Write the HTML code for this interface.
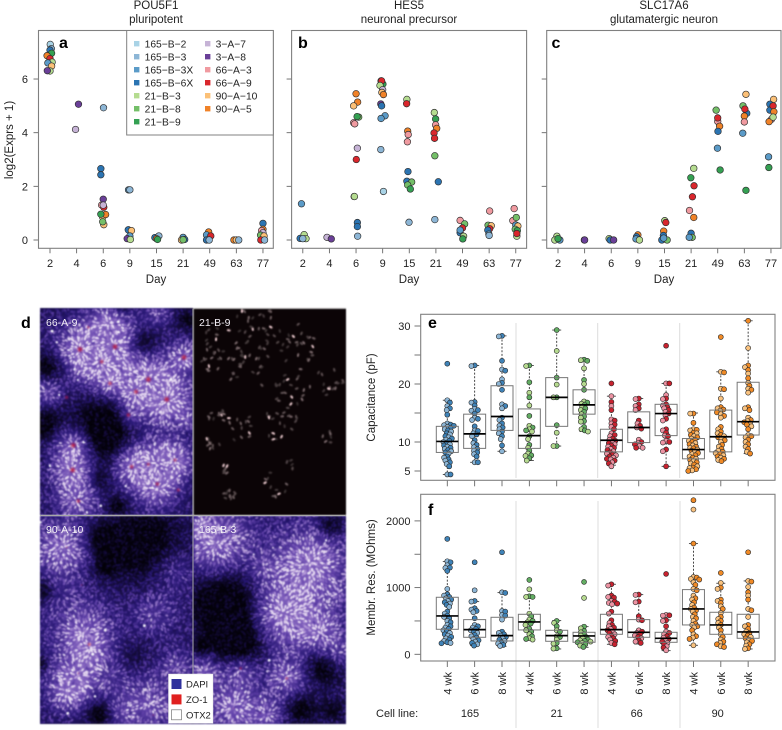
<!DOCTYPE html>
<html lang="en">
<head>
<meta charset="utf-8">
<title>Cell line expression and electrophysiology</title>
<style>
html,body{margin:0;padding:0;background:#fff;}
#page{position:relative;width:782px;height:730px;overflow:hidden;background:#fff;font-family:"Liberation Sans",sans-serif;}
#micro{position:absolute;left:0;top:0;filter:blur(0.4px);}
#chart{position:absolute;left:0;top:0;}
text{font-family:"Liberation Sans",sans-serif;fill:#222;}
</style>
</head>
<body>
<div id="page">
<canvas id="micro" width="782" height="730"></canvas>
<svg id="chart" width="782" height="730" viewBox="0 0 782 730" xmlns="http://www.w3.org/2000/svg"></svg>
</div>
<script>
/* ---------- Chart data: panels a-c ---------- */
const dayLabels = ['2','4','6','9','15','21','49','63','77'];
const exprTicks = [0,2,4,6];
const lineNames = ['165\u2212B\u22122','165\u2212B\u22123','165\u2212B\u22123X','165\u2212B\u22126X','21\u2212B\u22123','21\u2212B\u22128','21\u2212B\u22129','3\u2212A\u22127','3\u2212A\u22128','66\u2212A\u22123','66\u2212A\u22129','90\u2212A\u221210','90\u2212A\u22125'];
const lineColors = ['#a9d3e6','#8db6d6','#5b9bc8','#2b74b2','#b5dc90','#74bf68','#34a052','#c6b3d6','#6a3f98','#f09aa0','#d9262c','#fbc077','#f08228'];
/* each point: day index, horizontal jitter (category units), log2 expression, cell line index */
const pointsA = [
[0,.01,7.29,0],[0,.05,7.13,1],[0,0,7.08,3],[0,.06,6.96,6],[0,-.11,6.87,12],[0,0,6.76,10],[0,.08,6.63,4],[0,-.08,6.6,2],[0,.06,6.48,11],[0,0,6.3,4],[0,-.1,6.31,8],
[1,.07,5.06,8],[1,-.04,4.12,7],
[2,.01,4.93,1],[2,-.09,2.66,3],[2,-.09,2.43,3],[2,0,1.52,8],[2,-.06,1.3,9],[2,.02,1.22,10],[2,0,1.3,7],[2,.02,.57,11],[2,-.02,.85,11],[2,.09,.95,12],[2,-.02,.68,5],[2,-.09,.96,6],
[3,-.05,1.87,2],[3,0,1.87,1],[3,-.06,.38,3],[3,.06,.35,11],[3,0,.15,2],[3,-.1,.05,8],[3,.02,.02,4],
[4,-.06,.09,3],[4,.09,.15,1],[4,0,.05,12],[4,.04,.02,6],
[5,0,.1,2],[5,-.06,0,11],[5,.06,.02,3],[5,0,.01,5],
[6,-.04,.3,12],[6,-.12,.19,2],[6,.04,.15,10],[6,-.12,0,3],[6,-.02,0,1],
[7,-.09,0,12],[7,0,0,11],[7,.09,0,1],
[8,0,.62,3],[8,0,.4,12],[8,-.05,.35,9],[8,0,.27,7],[8,-.09,.18,5],[8,.04,.15,11],[8,-.08,0,10],[8,.06,0,1]
];
const pointsB = [
[0,-.05,1.35,2],[0,-.1,.06,3],[0,.02,.06,8],[0,.05,.2,4],[0,.12,.05,4],[0,0,.05,1],
[1,-.09,.1,7],[1,.07,.04,8],
[2,0,5.45,12],[2,.06,5.14,12],[2,-.09,5,11],[2,.1,4.58,5],[2,.04,4.6,6],[2,-.09,4.37,9],[2,-.05,4.33,9],[2,.05,3.42,7],[2,.01,3,10],[2,-.07,1.62,6],[2,-.06,1.62,4],[2,.05,.65,3],[2,.05,.5,3],[2,.06,.14,1],
[3,-.06,5.93,6],[3,.01,5.81,6],[3,-.04,5.93,10],[3,-.1,5.76,4],[3,0,5.6,7],[3,-.03,5.5,11],[3,.03,5.42,12],[3,-.07,5.07,8],[3,-.04,5,3],[3,.09,4.63,2],[3,-.06,4.53,2],[3,-.07,3.37,1],[3,.03,1.81,0],
[4,-.09,5.24,4],[4,-.1,5.08,10],[4,-.06,4.06,12],[4,-.04,3.93,9],[4,-.07,3.66,9],[4,-.05,2.55,3],[4,-.09,2.19,3],[4,.09,2.16,5],[4,-.06,2.05,5],[4,.04,1.9,6],[4,-.01,.66,1],
[5,-.06,4.75,4],[5,-.01,4.51,6],[5,-.01,4.29,9],[5,.03,4.16,12],[5,-.07,3.99,10],[5,-.05,3.79,10],[5,-.04,3.14,5],[5,.09,2.17,3],[5,-.04,.76,1],
[6,-.09,.73,9],[6,.08,.6,5],[6,0,.45,10],[6,-.09,.27,3],[6,-.09,.37,2],[6,.04,.14,4],[6,.01,.04,6],
[7,.02,1.08,9],[7,-.04,.55,5],[7,.08,.53,11],[7,.02,.42,10],[7,-.05,.37,3],[7,-.01,.22,2],[7,0,.17,1],
[8,-.06,1.17,9],[8,-.11,.72,9],[8,.02,.84,5],[8,0,.56,2],[8,.08,.52,11],[8,-.02,.4,5],[8,.06,.35,6],[8,.04,.14,4],[8,.04,.24,10]
];
const pointsC = [
[0,-.04,.14,4],[0,-.12,0,4],[0,.07,0,2],[0,0,.05,6],
[1,-.01,0,7],[1,0,0,8],
[2,-.08,.05,4],[2,-.04,0,3],[2,.09,0,8],
[3,0,.19,12],[3,-.05,.12,3],[3,-.07,.04,2],[3,.06,0,4],
[4,.01,.72,4],[4,.05,.65,10],[4,-.03,.33,12],[4,-.04,.17,3],[4,-.1,0,3],[4,.1,0,5],[4,-.03,.07,2],
[5,.1,2.67,4],[5,-.01,2.32,6],[5,.11,2.02,10],[5,.05,1.61,10],[5,-.06,1.1,9],[5,.1,.84,12],[5,0,.25,3],[5,.04,.1,5],[5,-.07,.1,2],
[6,-.06,4.84,5],[6,0,4.42,9],[6,0,4.55,10],[6,.07,4.24,12],[6,.01,4.05,3],[6,-.01,3.42,2],[6,.09,2.61,6],
[7,.06,5.43,11],[7,-.05,5,5],[7,.09,4.72,3],[7,.02,4.88,10],[7,0,4.62,12],[7,0,4.4,9],[7,-.06,3.98,2],[7,.06,1.85,6],
[8,.1,5.24,11],[8,-.04,5.06,3],[8,-.04,4.84,3],[8,.02,4.5,9],[8,-.07,4.41,12],[8,.08,5,10],[8,.11,4.78,12],[8,.08,4.58,4],[8,-.09,3.1,2],[8,-.08,2.7,6]
];

/* ---------- Chart data: panels e-f ---------- */
const weekLabels = ['4 wk','6 wk','8 wk'];
const cellLines = ['165','21','66','90'];
const capTicks = [5,10,15,20,25,30];
const capTickLabels = ['5','10','','20','','30'];
const resTicks = [0,500,1000,1500,2000];
const resTickLabels = ['0','','1000','','2000'];
const groupColors = [['#3f83b8','#8db6d6'],['#62ad62','#b5d98f'],['#c8222f','#ec93a3'],['#f08a26','#f9c27f']];
/* box statistics: lower whisker, q1, median, q3, upper whisker */
const capBoxes = [
[4.4,8.2,10.1,12.7,17.2],[6.5,8.9,11.4,14.8,23.2],[8.4,12,14.4,19.7,28.3],
[6.8,8.9,11.1,15.7,23.2],[9.3,12.7,17.7,21.1,29.3],[11.8,14.8,16.4,19,24.2],
[6,8.3,10.3,12.2,17.9],[9,9.9,12.5,15.2,17.5],[5.8,11.1,14.9,16.5,20.1],
[5.1,7.1,8.7,10.6,15],[6.8,8.3,10.9,15.5,22.1],[8,11.2,13.5,20.3,30.9]
];
const resBoxes = [
[165,375,575,855,1390],[130,255,370,520,790],[120,200,280,555,925],
[215,365,485,600,865],[80,195,280,360,505],[105,180,275,330,415],
[150,300,370,600,1050],[155,255,330,520,895],[55,180,240,330,515],
[135,440,680,970,1660],[120,300,440,630,1065],[80,240,335,600,1100]
];
const capCells = [
[23.5,17.2,16.8,16.2,15.8,15.5,14.7,13.2,13,12.9,12.8,12.6,12.4,12.2,12,11.8,11.5,11.3,11,10.8,10.6,10.4,10.2,10,9.8,9.6,9.4,9.2,9,8.8,8.6,8.4,8.2,8,7.5,7.3,7,6.8,6.5,6.2,5.8,4.4,4.4],
[23.2,23.1,16.9,16.8,16.3,15.7,15.5,15.4,14.9,14.2,14,13.8,12.7,12,11.9,11.5,11.3,11,10.3,9.8,9.5,9.1,8.8,8.5,8.2,7.9,7.5,6.5,6.5],
[28.3,28.2,24,22.5,22.3,20.8,20.2,20,19,16.5,16.2,15.8,14.2,13.8,13.2,12.8,12.5,12.2,11.8,11.5,11,10.5,9.4,8.4],
[23.2,23.1,20.3,18.5,17.7,16.3,14.5,12.8,12.5,12.2,12,11.8,11,10.5,9.5,9,8.5,8,7.7,7.6,7.2,6.8],
[29.3,25.7,21.1,19.9,17.7,17.7,12.9,11.6,9.3,9.3],
[24.2,24.1,24,22.7,20.7,20,19,17,16.8,16.6,16.4,16,15.8,15.5,15.2,14.8,14.4,14.2,13.6,13.5,12.6,12.2,12,11.8],
[20.1,17.9,16.9,16.2,15.5,13.9,13.7,13.2,13,12.6,12.2,11.5,11.2,11,10.6,10.4,10.2,10,9.8,9.6,9.4,9.2,9,8.8,8.6,8.4,8.2,8,7.8,7.7,7.5,7.3,7.1,7,6.8,6.5,6.3,5.8],
[17.5,17.4,16.5,16.2,15.8,15.5,13.7,13.2,12.8,12.5,12.3,10.4,10,9.8,9.6,9.3,9,9],
[26.6,20.1,20.1,18.1,17.5,17.4,16.5,16.3,16,15.8,15.5,15.2,14.9,14.6,14,13.7,12.2,12,11.6,11.1,11,10.2,10,9.9,8.7,8.4,5.8],
[14.9,14.9,13.3,12.2,12.1,12,11.6,11.5,11.2,11,10.8,10.6,10.4,10.2,10,9.8,9.6,9.4,9.2,9,8.9,8.7,8.5,8.3,8.1,7.9,7.7,7.5,7.3,7.1,6.9,6.7,6.5,6.3,6.1,5.8,5.6,5.5,5.3,5.1,5],
[28.1,22.1,22,19.2,19.1,17.5,16,15.8,15.6,15.4,15.1,14.8,14.5,14.2,12.6,12.2,11.8,11.5,11.2,11,10.8,10.6,10.3,10,9.5,9.2,8.8,8.5,8.3,8.1,7.9,7.7,7.5,7.3,7.1,6.9,6.7],
[30.9,26.2,23.2,22.9,22.4,21.8,21,20.2,19.7,19.2,19,18.5,16,15.8,15.5,14.2,13.8,13.6,13.4,13.2,13,12.7,12.2,11.2,11,10.8,10.4,10,9.6,9.2,8.8,8.3,8]
];
const resCells = [
[1730,1395,1380,1335,1300,1295,1250,980,900,880,860,840,820,800,780,760,740,710,640,610,580,560,540,500,480,440,420,400,380,360,340,320,300,280,260,240,220,200,180,170,165],
[1380,960,800,790,690,670,650,630,540,440,420,400,380,360,340,320,290,270,250,230,210,190,170,150,130],
[1530,930,920,650,640,590,580,520,340,320,300,280,260,240,220,200,180,160,140,125],
[1115,975,870,860,860,610,570,520,500,480,460,440,380,360,340,300,270,240,230,220],
[500,470,420,360,340,270,260,220,170,160,90,85],
[1085,845,415,390,350,330,300,280,260,240,220,210,200,190,180,170,150,130,110],
[1050,1030,880,860,850,800,790,770,760,750,640,610,510,470,440,420,400,380,360,340,320,300,280,260,240,220,200,170,150],
[895,890,790,780,570,520,510,360,340,320,300,280,260,240,210,190,170],
[1205,590,585,580,510,500,420,340,320,300,270,250,230,210,190,170,150,120,100,60],
[2310,2170,1660,1160,1150,1130,1120,1080,1040,980,960,880,840,820,780,740,700,680,660,640,600,560,540,500,460,440,420,400,360,300,270,250,230,135],
[1220,1070,1000,980,820,800,770,720,680,620,560,530,500,470,440,400,360,300,260,220,190,170,150,120,110],
[1530,1100,1090,1010,930,880,820,680,660,560,440,420,380,340,320,300,280,260,240,220,200,180,150,130,90,80]
];

/* ---------- SVG helpers ---------- */
const svg = document.getElementById('chart');
const NS = 'http://www.w3.org/2000/svg';
function mk(tag, attrs, parent){
  const e = document.createElementNS(NS, tag);
  for (const k in attrs) e.setAttribute(k, attrs[k]);
  (parent || svg).appendChild(e);
  return e;
}
function label(str, x, y, size, anchor, parent, extra){
  const t = mk('text', Object.assign({x:x, y:y, 'font-size':size, 'text-anchor':anchor || 'middle'}, extra || {}), parent);
  t.textContent = str;
  return t;
}

/* ---------- Panels a, b, c ---------- */
const exprTop = 30.5, exprBottom = 248.3;
function yExpr(v){ return 240 - v * 26.83; }
function drawExprPanel(cfg){
  const g = mk('g', {});
  
  
  const xDay = function(pos){ return cfg.x2 + pos * 26.62; };

  const t1 = label(cfg.gene, cfg.cx, 9, 11.5, 'middle', g);
  
  
  const t2 = label(cfg.sub, cfg.cx, 23, 11.5, 'middle', g);
  
  

  exprTicks.forEach(function(v){
    const tk = mk('line', {x1:cfg.left-5, x2:cfg.left, y1:yExpr(v), y2:yExpr(v), stroke:'#666', 'stroke-width':0.9}, g);
    
    
    if (cfg.yLabels){
      const tl = label(String(v), 28, yExpr(v)+4, 11, 'end', g);
      
      
    }
  });
  dayLabels.forEach(function(d, i){
    const tk = mk('line', {x1:xDay(i), x2:xDay(i), y1:exprBottom, y2:exprBottom+5, stroke:'#666', 'stroke-width':0.9}, g);
    
    
    const tl = label(d, xDay(i), 267, 11, 'middle', g);
    
    
  });
  const xt = label('Day', cfg.cx, 283, 11.5, 'middle', g);
  
  

  cfg.points.forEach(function(p){
    const c = mk('circle', {cx:xDay(p[0]+p[1]), cy:yExpr(p[2]), r:3.3, fill:lineColors[p[3]], stroke:'#2e2e2e', 'stroke-width':0.65}, g);
    
    
  });

  const frame = mk('rect', {x:cfg.left, y:exprTop, width:cfg.right-cfg.left, height:exprBottom-exprTop, fill:'none', stroke:'#808080', 'stroke-width':1.1}, g);
  
  

  const pl = label(cfg.letter, cfg.lx, 48, 16, 'start', g, {'font-weight':'bold', style:'fill:#000'});
  
  
  return g;
}
drawExprPanel({name:'panel-a-pou5f1', gene:'POU5F1', sub:'pluripotent', letter:'a', lx:59, left:38.5, right:273.3, x2:50, cx:156, points:pointsA, yLabels:true});
drawExprPanel({name:'panel-b-hes5', gene:'HES5', sub:'neuronal precursor', letter:'b', lx:298, left:291.6, right:526.6, x2:302.8, cx:409, points:pointsB, yLabels:false});
drawExprPanel({name:'panel-c-slc17a6', gene:'SLC17A6', sub:'glutamatergic neuron', letter:'c', lx:551.5, left:546.7, right:781, x2:558, cx:664, points:pointsC, yLabels:false});

const yTitleA = label('log2(Exprs + 1)', 0, 0, 11.5, 'middle', svg, {transform:'translate(13,140) rotate(-90)'});



/* legend of panel a */
const legend = mk('g', {});


const legendBox = mk('rect', {x:126.7, y:30.5, width:146.6, height:104.5, fill:'#fff', stroke:'#808080', 'stroke-width':1}, legend);


lineNames.forEach(function(n, i){
  const col = i < 7 ? 0 : 1;
  const row = i < 7 ? i : i - 7;
  const sx = col === 0 ? 134 : 205;
  const sy = 44 + row * 13;
  const sw = mk('rect', {x:sx, y:sy-3, width:5.4, height:5.4, fill:lineColors[i]}, legend);
  
  
  const tx = label(n, sx+10.6, sy+3.5, 10.3, 'start', legend);
  
  
});

/* ---------- Panels e, f ---------- */
function xGroup(i){ return 447.3 + i * 27.35; }
function yCap(v){ return 442 - (v - 10) * 5.8; }
function yRes(v){ return 654.3 - v * 0.0667; }

function swarm(values, yFn, cx){
  const sorted = values.map(function(v){ return {v:v, y:yFn(v)}; }).sort(function(a,b){ return a.y-b.y; });
  const placed = [];
  sorted.forEach(function(p, idx){
    let best = 0, bestScore = Infinity;
    for (let s = 0; s <= 10; s++){
      const mag = s * 0.65;
      const sides = idx % 2 ? [-1, 1] : [1, -1];
      for (const sd of sides){
        const dx = sd * mag;
        let overlap = 0;
        placed.forEach(function(q){
          const d = Math.hypot(q.dx-dx, q.y-p.y);
          if (d < 3.2) overlap += 3.2 - d;
        });
        const score = overlap * 3 + mag * 0.22;
        if (score < bestScore){ bestScore = score; best = dx; }
      }
    }
    p.dx = best;
    placed.push(p);
  });
  return placed.map(function(p){ return {v:p.v, x:cx+p.dx, y:p.y}; });
}

function drawBoxPanel(cfg){
  const g = mk('g', {});
  
  
  cfg.ticks.forEach(function(v, i){
    const tk = mk('line', {x1:414.5, x2:420.7, y1:cfg.y(v), y2:cfg.y(v), stroke:'#666', 'stroke-width':0.9}, g);
    
    
    if (cfg.tickLabels[i]){
      const tl = label(cfg.tickLabels[i], 410.5, cfg.y(v)+4, 11, 'end', g);
      
      
    }
  });
  cfg.boxes.forEach(function(b, i){
    const tk = mk('line', {x1:xGroup(i), x2:xGroup(i), y1:cfg.bottom, y2:cfg.bottom+6, stroke:'#666', 'stroke-width':0.9}, g);
    
    
  });
  cfg.sepEnds.forEach(function(x){
    const sp = mk('line', {x1:x, x2:x, y1:cfg.sepTop, y2:cfg.sepBottom, stroke:'#dcdcdc', 'stroke-width':1}, g);
    
    
  });
  cfg.boxes.forEach(function(b, i){
    const cx = xGroup(i);
    const pair = groupColors[Math.floor(i/3)];
    const whisker = mk('path', {d:'M'+cx+' '+cfg.y(b[4])+'V'+cfg.y(b[3])+'M'+cx+' '+cfg.y(b[1])+'V'+cfg.y(b[0]), stroke:'#333', 'stroke-width':0.9, 'stroke-dasharray':'2 1.6', fill:'none'}, g);
    
    
    [b[0], b[4]].forEach(function(v){
      const cap = mk('line', {x1:cx-4.5, x2:cx+4.5, y1:cfg.y(v), y2:cfg.y(v), stroke:'#444', 'stroke-width':0.9}, g);
      
      
    });
    swarm(cfg.cells[i], cfg.y, cx).forEach(function(p, k){
      const c = mk('circle', {cx:p.x, cy:p.y, r:2.5, fill:pair[k % 2], stroke:'#2a2a2a', 'stroke-width':0.6}, g);
      
      
    });
    const box = mk('rect', {x:cx-11, y:cfg.y(b[3]), width:22, height:cfg.y(b[1])-cfg.y(b[3]), fill:'none', stroke:'#777', 'stroke-width':1}, g);
    
    
    const med = mk('line', {x1:cx-11, x2:cx+11, y1:cfg.y(b[2]), y2:cfg.y(b[2]), stroke:'#000', 'stroke-width':1.7}, g);
    
    
  });
  const frame = mk('rect', {x:420.7, y:cfg.top, width:354.3, height:cfg.bottom-cfg.top, fill:'none', stroke:'#808080', 'stroke-width':1.1}, g);
  
  
  const pl = label(cfg.letter, 428, cfg.letterY, 16, 'start', g, {'font-weight':'bold', style:'fill:#000'});
  
  
  const yt = label(cfg.title, 0, 0, 11.5, 'middle', g, {transform:'translate(375,'+cfg.titleY+') rotate(-90)'});
  
  
}
drawBoxPanel({name:'panel-e-capacitance', letter:'e', letterY:328, title:'Capacitance (pF)', titleY:397.5, top:314.3, bottom:480.3, y:yCap, ticks:capTicks, tickLabels:capTickLabels, boxes:capBoxes, cells:capCells, sepEnds:[516,597.7,679.7], sepTop:323, sepBottom:478});
drawBoxPanel({name:'panel-f-resistance', letter:'f', letterY:515, title:'Membr. Res. (MOhms)', titleY:577.5, top:494.3, bottom:661, y:yRes, ticks:resTicks, tickLabels:resTickLabels, boxes:resBoxes, cells:resCells, sepEnds:[516,598,680], sepTop:501, sepBottom:728});

capBoxes.forEach(function(b, i){
  const wk = weekLabels[i % 3];
  const x = xGroup(i);
  const t = label(wk, 0, 0, 11, 'end', svg, {transform:'translate('+(x+4)+',672) rotate(-90)'});
  
  
});
const cellLineTitle = label('Cell line:', 376, 717, 11, 'start');


cellLines.forEach(function(n, i){
  const t = label(n, [470,556.7,636.7,717.7][i], 717, 11, 'middle');
  
  
});

/* ---------- Panel d overlay ---------- */
const dGroup = mk('g', {});


const dLetter = label('d', 21, 328, 16, 'start', dGroup, {'font-weight':'bold', style:'fill:#000'});


const vDiv = mk('line', {x1:193, x2:193, y1:308.7, y2:723.3, stroke:'#a8a8a8', 'stroke-width':1}, dGroup);


const hDiv = mk('line', {x1:40, x2:346, y1:515.5, y2:515.5, stroke:'#a8a8a8', 'stroke-width':1}, dGroup);


[['66-A-9',46,326],['21-B-9',199,326],['90-A-10',46,533],['165-B-3',199,533]].forEach(function(r){
  const t = label(r[0], r[1], r[2], 10.5, 'start', dGroup, {style:'fill:#f2eef5'});
  
  
});
const dLegend = mk('rect', {x:168.5, y:674, width:44.5, height:49.3, fill:'#fff', stroke:'#ddd', 'stroke-width':0.5}, dGroup);


[['DAPI','#2f319c','none'],['ZO-1','#e0201f','none'],['OTX2','#fff','#777']].forEach(function(r, i){
  const y = 679 + i * 15.4;
  const s = mk('rect', {x:171.5, y:y, width:10, height:10, fill:r[1], stroke:r[2], 'stroke-width':0.7}, dGroup);
  
  
  const t = label(r[0], 186, y+8.6, 9.5, 'start', dGroup);
  
  
});

/* ---------- Micrograph texture (illustrative image, not chart data) ---------- */
(function(){
  const cv = document.getElementById('micro');
  const ctx = cv.getContext('2d');
  let seed = 12345;
  function rnd(){ seed = (seed * 1664525 + 1013904223) >>> 0; return seed / 4294967296; }
  const stops = [[0,4,2,10],[.25,40,24,116],[.5,100,68,172],[.74,168,138,210],[1,236,224,244]];
  function cmap(t){
    t = Math.max(0, Math.min(1, t));
    for (let i = 1; i < stops.length; i++){
      if (t <= stops[i][0]){
        const a = stops[i-1], b = stops[i], u = (t-a[0])/(b[0]-a[0]);
        return [a[1]+(b[1]-a[1])*u, a[2]+(b[2]-a[2])*u, a[3]+(b[3]-a[3])*u];
      }
    }
    return [236,224,244];
  }
  const quads = [
    {x:40,y:308.7,w:153,h:206.3,base:.26,blobs:[
      [240,150,56,.66],[340,135,60,.72],[300,190,44,.45],[550,170,32,.62],[440,235,50,.66],[500,300,54,.84],[405,275,34,.5],[140,275,32,.48],
      [220,435,40,.7],[215,510,40,.64],[400,500,42,.66],[470,490,48,.66],[525,480,34,.6],[470,565,42,.56],[230,600,44,.54],[330,70,38,.45],[470,40,26,.36],[330,250,26,.38],[390,350,22,.32],[560,360,20,.28]],
     darks:[[150,200,36,.42],[420,130,34,.46],[300,400,66,.5],[350,615,24,.3],[130,370,36,.36],[360,20,22,.28],[560,60,22,.26],[300,540,22,.24]]},
    {x:193.5,y:308.7,w:152.5,h:206.3,base:0,blobs:[],darks:[]},
    {x:40,y:516,w:153,h:207.3,base:.3,blobs:[
      [185,740,56,.66],[250,1000,60,.6],[270,1045,38,.3],[460,940,44,.32],[520,810,44,.28],[230,1130,46,.56],[200,1175,38,.52],[450,1210,58,.5],[530,1100,34,.35],[330,1130,44,.18],[360,1240,34,.28],[180,880,48,.14]],
     darks:[[130,870,24,.36],[300,1240,30,.42],[122,1090,16,.32],[430,730,84,.42],[300,720,34,.36],[400,1070,40,.18],[310,800,28,.24]]},
    {x:193.5,y:516,w:152.5,h:207.3,base:.3,blobs:[
      [650,730,68,.72],[930,790,74,.72],[850,940,68,.78],[960,1000,50,.5],[1010,1060,34,.38],[610,1120,32,.56],[720,1110,34,.46],[860,1130,42,.56],[700,1220,54,.6],[800,1245,34,.45],[790,800,34,.24],[600,680,26,.35],[1015,880,20,.24]],
     darks:[[680,900,78,.55],[720,1030,56,.48],[970,1090,44,.5],[990,680,28,.4],[900,1225,36,.36],[1000,1230,28,.26],[600,1040,18,.24]]}
  ];
  function field(q, zx, zy){
    let f = q.base;
    q.blobs.forEach(function(b){
      const dx = zx-b[0], dy = zy-b[1], s = b[2]*1.02;
      f += b[3]*Math.exp(-(dx*dx+dy*dy)/(2*s*s));
    });
    q.darks.forEach(function(b){
      const dx = zx-b[0], dy = zy-b[1], s = b[2]*1.02;
      f -= b[3]*Math.exp(-(dx*dx+dy*dy)/(2*s*s));
    });
    return Math.min(1, Math.max(0, f));
  }
  function zoomX(px){ return (px-40)*3+120; }
  function zoomY(py){ return (py-308.7)*3+26; }

  /* white page, then haze */
  ctx.fillStyle = '#fff';
  ctx.fillRect(0,0,782,730);
  quads.forEach(function(q, qi){
    if (qi === 1){ ctx.fillStyle = '#0b0406'; ctx.fillRect(q.x,q.y,q.w,q.h); return; }
    const x0 = Math.floor(q.x), y0 = Math.floor(q.y), w = Math.ceil(q.w), h = Math.ceil(q.h);
    const img = ctx.createImageData(w, h);
    for (let j = 0; j < h; j++){
      for (let i = 0; i < w; i++){
        const f = field(q, zoomX(x0+i), zoomY(y0+j));
        const c = cmap(f*.58);
        const o = (j*w+i)*4;
        img.data[o] = c[0]; img.data[o+1] = c[1]; img.data[o+2] = c[2]; img.data[o+3] = 255;
      }
    }
    ctx.putImageData(img, x0, y0);
  });
  /* cells */
  quads.forEach(function(q, qi){
    if (qi === 1) return;
    ctx.save();
    ctx.beginPath(); ctx.rect(q.x,q.y,q.w,q.h); ctx.clip();
    for (let py = q.y; py < q.y+q.h; py += 3){
      for (let px = q.x; px < q.x+q.w; px += 3){
        const x = px + rnd()*2.8, y = py + rnd()*2.8;
        const zx = zoomX(x), zy = zoomY(y);
        const f = field(q, zx, zy);
        let ang = rnd()*Math.PI, best = 1e9;
        q.blobs.forEach(function(b){
          const d = Math.hypot(zx-b[0], zy-b[1]);
          if (d < best && d < b[2]*1.4){ best = d; ang = Math.atan2(zy-b[1], zx-b[0]); }
        });
        const t = f*(.42+.88*rnd()) + rnd()*.14;
        const c = cmap(t);
        ctx.fillStyle = 'rgb('+(c[0]|0)+','+(c[1]|0)+','+(c[2]|0)+')';
        ctx.beginPath();
        ctx.ellipse(x, y, 1.8, 1.05, ang, 0, Math.PI*2);
        ctx.fill();
        if (rnd() < .007 && f > .35){
          ctx.fillStyle = '#fff';
          ctx.beginPath(); ctx.arc(x, y, .9+rnd()*.6, 0, Math.PI*2); ctx.fill();
        }
      }
    }
    ctx.restore();
  });
  /* ZO-1 rosettes */
  const rosettes = [[240,148,1],[345,140,1],[305,185,.8],[552,172,1],[445,238,1],[500,298,1],[408,275,.9],[330,250,.8],[200,292,.7],[385,345,.8],[220,436,1],[218,510,1],[395,500,.8],[445,493,.7],[525,480,.7],[472,552,.8],[535,570,.7],[235,603,.8],[265,82,.6],
    [200,742,.4],[245,855,.4],[268,1033,.7],[235,1120,.4],[460,1245,.4],[860,1135,.6],[722,1105,.6],[780,1240,.3],[700,1225,.3]];
  rosettes.forEach(function(r){
    const x = (r[0]-120)/3+40, y = (r[1]-26)/3+308.7, s = 3.8*r[2];
    const g = ctx.createRadialGradient(x,y,0,x,y,s);
    g.addColorStop(0,'rgba(200,20,50,'+(.95*r[2])+')');
    g.addColorStop(.55,'rgba(165,25,75,'+(.5*r[2])+')');
    g.addColorStop(1,'rgba(150,30,100,0)');
    ctx.fillStyle = g;
    ctx.beginPath(); ctx.arc(x,y,s,0,Math.PI*2); ctx.fill();
  });
  /* 21-B-9: sparse OTX2 nuclei */
  const q = quads[1];
  const clusters = [[700,110,85,36],[820,110,85,26],[640,170,45,13],[900,150,60,16],[740,220,60,16],[880,280,60,22],[980,240,45,10],[650,350,28,11],[720,380,45,14],[840,370,55,20],[980,410,22,6],[640,430,26,9],[672,510,16,7],[690,585,20,11],[830,550,45,11],[875,490,16,5],[1020,240,14,4]];
  ctx.save();
  ctx.beginPath(); ctx.rect(q.x,q.y,q.w,q.h); ctx.clip();
  clusters.forEach(function(c){
    for (let i = 0; i < c[3]; i++){
      const a = rnd()*Math.PI*2, d = Math.sqrt(rnd())*c[2];
      const x = (c[0]+Math.cos(a)*d-120)/3+40, y = (c[1]+Math.sin(a)*d-26)/3+308.7;
      const b = rnd();
      const v = b > .88 ? 235 : 55 + b*85;
      ctx.fillStyle = 'rgb('+(v|0)+','+((v*.86)|0)+','+((v*.88)|0)+')';
      ctx.beginPath();
      ctx.ellipse(x, y, 2, 1.1, rnd()*Math.PI, 0, Math.PI*2);
      ctx.fill();
    }
  });
  ctx.restore();
})();
</script>
</body>
</html>
